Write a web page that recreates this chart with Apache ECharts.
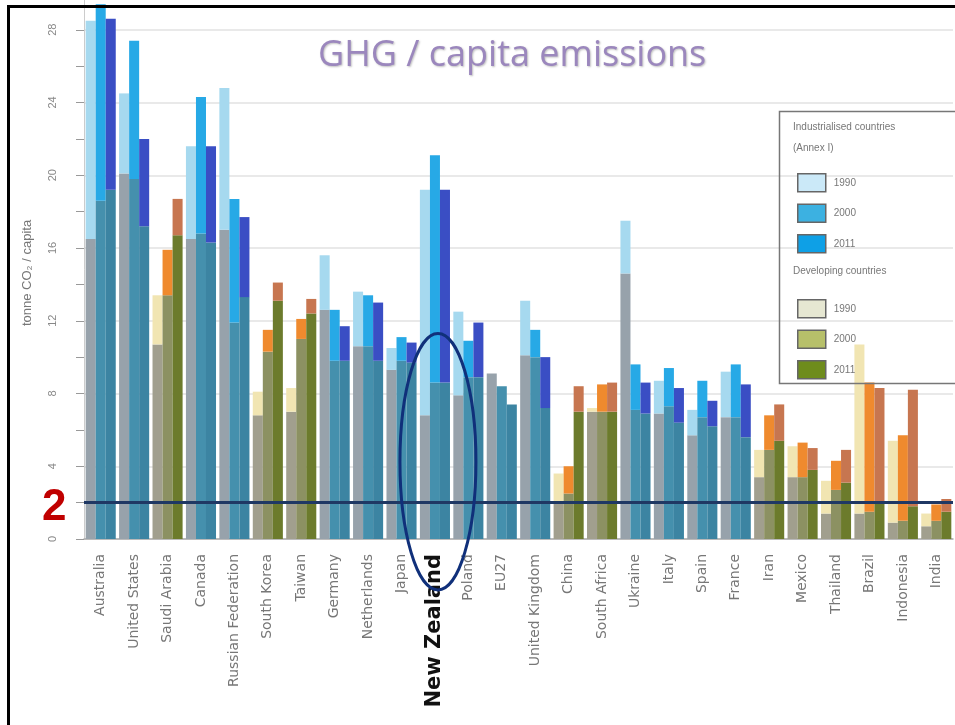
<!DOCTYPE html>
<html><head><meta charset="utf-8">
<script src="https://cdn.jsdelivr.net/npm/echarts@6/dist/echarts.min.js"></script>
<style>html,body{margin:0;padding:0;background:#fff}#c{width:955px;height:725px}</style>
</head><body><div id="c"></div>
<script>
// ---- data ----
const countries = ['Australia','United States','Saudi Arabia','Canada','Russian Federation','South Korea','Taiwan','Germany','Netherlands','Japan','New Zealand','Poland','EU27','United Kingdom','China','South Africa','Ukraine','Italy','Spain','France','Iran','Mexico','Thailand','Brazil','Indonesia','India'];
const group = ['I','I','D','I','I','D','D','I','I','I','I','I','I','I','D','D','I','I','I','I','D','D','D','D','D','D'];
const years = ['1990','2000','2011'];
// lower part of each bar (CO2) and total height (GHG), tonne / capita
const co2_1990 = [16.5,20.1,10.7,16.5,17.0,6.8,7.0,12.6,10.6,9.3,6.8,7.9,9.1,10.1,2.0,7.0,14.6,6.9,5.7,6.7,3.4,3.4,1.4,1.4,0.9,0.7];
const ghg_1990 = [28.5,24.5,13.4,21.6,24.8,8.1,8.3,15.6,13.6,10.5,19.2,12.5,9.1,13.1,3.6,7.2,17.5,8.7,7.1,9.2,4.9,5.1,3.2,10.7,5.4,1.4];
const co2_2000 = [18.6,19.8,13.4,16.8,11.9,10.3,11.0,9.8,10.6,9.8,8.6,8.9,8.4,10.0,2.5,7.0,7.1,7.3,6.7,6.7,4.9,3.4,2.7,1.5,1.0,1.0];
const ghg_2000 = [29.4,27.4,15.9,24.3,18.7,11.5,12.1,12.6,13.4,11.1,21.1,10.9,8.4,11.5,4.0,8.5,9.6,9.4,8.7,9.6,6.8,5.3,4.3,8.6,5.7,1.9];
const co2_2011 = [19.2,17.2,16.7,16.3,13.3,13.1,12.4,9.8,9.8,9.7,8.6,8.9,7.4,7.2,7.0,7.0,6.9,6.4,6.2,5.6,5.4,3.8,3.1,2.0,1.8,1.5];
const ghg_2011 = [28.6,22.0,18.7,21.6,17.7,14.1,13.2,11.7,13.0,10.8,19.2,11.9,7.4,10.0,8.4,8.6,8.6,8.3,7.6,8.5,7.4,5.0,4.9,8.3,8.2,2.2];
const yTicks = {min:0, max:32, interval:4};
const threshold = 2;
const highlight = 'New Zealand';
const ellipseRange = [11.3, -2.8];

const co2 = {'1990':co2_1990,'2000':co2_2000,'2011':co2_2011};
const ghg = {'1990':ghg_1990,'2000':ghg_2000,'2011':ghg_2011};

// ---- styles ----
const baseColor = {
  I:{'1990':'#97a2ab','2000':'#4590ad','2011':'#3c84a2'},
  D:{'1990':'#a19f8e','2000':'#8c9162','2011':'#6c7b2c'}
};
const topColor = {
  I:{'1990':'#a6d9ef','2000':'#27a9e6','2011':'#3a4ec4'},
  D:{'1990':'#f1e5b2','2000':'#ef8a2e','2011':'#c77650'}
};
const legendColor = {
  I:{'1990':'#cbe9f8','2000':'#3cb1e1','2011':'#0ea0e6'},
  D:{'1990':'#e6e7d2','2000':'#b7c06a','2011':'#6e8c1c'}
};

const series = [];
years.forEach(y => {
  ['I','D'].forEach(g => {
    series.push({
      name: g + 'b-' + y, type:'bar', stack:'s'+y,
      data: countries.map((c,i)=> group[i]===g ? co2[y][i] : null),
      itemStyle:{color: baseColor[g][y]}, barGap:'0%', barCategoryGap:'10%'
    });
    series.push({
      name: g + '-' + y, type:'bar', stack:'s'+y,
      data: countries.map((c,i)=> group[i]===g ? +(ghg[y][i]-co2[y][i]).toFixed(2) : null),
      itemStyle:{color: topColor[g][y]}, barGap:'0%', barCategoryGap:'10%'
    });
  });
});
series[0].markLine = {
  silent:true, symbol:'none', animation:false,
  data:[{yAxis: threshold}],
  lineStyle:{color:'#1f3864', width:3, type:'solid'},
  label:{show:false}
};

function legendData(g){
  return years.map(y => ({name: g+'-'+y, itemStyle:{color: legendColor[g][y], borderColor:'#666', borderWidth:1.5}}));
}
const legendCommon = {
  orient:'vertical', left:792, itemWidth:28, itemHeight:18, itemGap:11, icon:'rect',
  selectedMode:false, formatter: n => n.split('-')[1],
  textStyle:{color:'#777', fontSize:10, fontFamily:'Liberation Sans', padding:[0,0,0,3]}
};

const chart = echarts.init(document.getElementById('c'));
chart.setOption({
  animation:false,
  backgroundColor:'#fff',
  title:{text:'GHG / capita emissions', left:313, top:33,
    textStyle:{color:'#9b87bd', fontSize:36, fontWeight:'normal', fontFamily:'Open Sans',
      textShadowColor:'rgba(0,0,0,0.25)', textShadowOffsetX:1, textShadowOffsetY:1, textShadowBlur:2}},
  grid:{left:84, right:2, top:-43, bottom:186, containLabel:false, outerBoundsMode:'none'},
  legend:[
    Object.assign({top:168, data:legendData('I')}, legendCommon),
    Object.assign({top:294, data:legendData('D')}, legendCommon)
  ],
  xAxis:{type:'category', data:countries,
    axisTick:{show:false},
    axisLine:{lineStyle:{color:'#aaa', width:1.5}},
    axisLabel:{rotate:90, interval:0, color:'#777', fontSize:14, fontFamily:'DejaVu Sans', margin:15,
      formatter: v => v===highlight ? '{nz|'+v+'}' : v,
      rich:{nz:{fontWeight:'bold', fontSize:21, color:'#111', fontFamily:'DejaVu Sans', padding:[0,0,0,5]}}}
  },
  yAxis:{type:'value', min:yTicks.min, max:yTicks.max, interval:yTicks.interval,
    name:'tonne CO\u2082 / capita', nameLocation:'middle', nameRotate:90, nameGap:50,
    nameTextStyle:{color:'#777', fontSize:13, fontFamily:'Liberation Sans', padding:[0,50,0,0]},
    axisLine:{show:true, lineStyle:{color:'#ccc'}},
    axisTick:{show:true, length:8, lineStyle:{color:'#999'}},
    minorTick:{show:true, splitNumber:2, length:8, lineStyle:{color:'#999'}},
    axisLabel:{rotate:90, color:'#888', fontSize:11, margin:26},
    splitLine:{lineStyle:{color:'#e9e9e9', width:2}}
  },
  series: series
});

// annotations
const nzX = chart.convertToPixel({xAxisIndex:0}, highlight);
const eTop = chart.convertToPixel({yAxisIndex:0}, ellipseRange[0]);
const eBot = chart.convertToPixel({yAxisIndex:0}, ellipseRange[1]);
chart.setOption({
  graphic:[
    {type:'rect', shape:{x:8.5, y:6.5, width:1000, height:800}, style:{fill:null, stroke:'#000', lineWidth:3}, z:100, silent:true},
    {type:'rect', shape:{x:779.5, y:111.5, width:200, height:272}, style:{fill:null, stroke:'#777', lineWidth:1.5}, z:50, silent:true},
    {type:'text', x:793, y:122, style:{text:'Industrialised countries', fill:'#777', fontSize:10, fontFamily:'Liberation Sans'}, z:50},
    {type:'text', x:793, y:143, style:{text:'(Annex I)', fill:'#777', fontSize:10, fontFamily:'Liberation Sans'}, z:50},
    {type:'text', x:793, y:266, style:{text:'Developing countries', fill:'#777', fontSize:10, fontFamily:'Liberation Sans'}, z:50},
    {type:'text', x:42, y:486, style:{text:'2', fill:'#c00000', fontSize:44, fontWeight:'bold', fontFamily:'Liberation Sans'}, z:50},
    {type:'ellipse', shape:{cx:nzX+3, cy:(eTop+eBot)/2, rx:38, ry:(eBot-eTop)/2}, style:{fill:null, stroke:'#10307a', lineWidth:3}, z:60, silent:true}
  ]
});
</script></body></html>
